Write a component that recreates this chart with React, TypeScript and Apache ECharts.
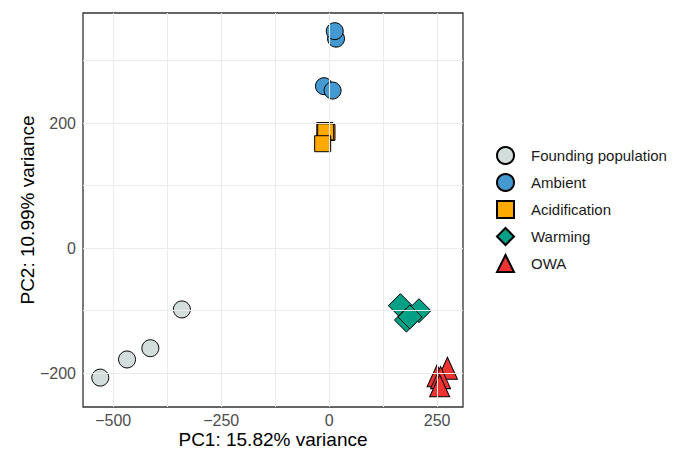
import React, { useEffect, useRef } from "react";
import * as echarts from "echarts";

const groupNames = ["Founding population", "Ambient", "Acidification", "Warming", "OWA"];
const founding = [[-530, -207], [-468, -178], [-414, -160], [-341, -98]];
const ambient = [[16, 335], [13, 347], [-12, 259], [8, 252]];
const acidification = [[-10, 188], [-5, 185], [-8, 186], [-15, 167]];
const warming = [[165, -92], [208, -100], [179, -115], [187, -110]];
const owa = [[274, -192], [250, -204], [258, -207], [256, -220]];
const xTicks = [-500, -250, 0, 250];
const yTicks = [-200, 0, 200];
const xGrid = [-500, -375, -250, -125, 0, 125, 250];
const yGrid = [-200, -100, 0, 100, 200, 300];

const colors = ["#D3DEDC", "#4499D0", "#FFAA00", "#00A087", "#EE3333"];
const symbols = ["circle", "circle", "rect", "diamond", "triangle"];
const sizes: any[] = [17, 17, 16, 24, [20, 22]];
const seriesData = [founding, ambient, acidification, warming, owa];

const minus = (v: number) => String(v).replace("-", "\u2212");

export default function App() {
  const ref = useRef<HTMLDivElement>(null);
  useEffect(() => {
    if (!ref.current) return;
    const chart = echarts.init(ref.current, undefined, { renderer: "svg" });
    const font = "Liberation Sans, Arial, sans-serif";
    const gridSeries: any = {
      type: "scatter",
      name: "grid",
      data: [],
      z: 1,
      silent: true,
      markLine: {
        silent: true,
        symbol: ["none", "none"],
        label: { show: false },
        lineStyle: { color: "#EBEBEB", width: 1, type: "solid" },
        emphasis: { disabled: true },
        data: [
          ...xGrid.map((v) => ({ xAxis: v })),
          ...yGrid.map((v) => ({ yAxis: v })),
        ],
      },
    };
    const series = groupNames.map((name, i) => ({
      type: "scatter",
      name,
      z: 3,
      data: seriesData[i],
      symbol: symbols[i],
      symbolSize: sizes[i],
      itemStyle: { color: colors[i], borderColor: "#000", borderWidth: 1, opacity: 1 },
    }));
    chart.setOption({
      animation: false,
      textStyle: { fontFamily: font },
      grid: {
        left: 83,
        top: 13,
        right: 219,
        bottom: 44,
        containLabel: false,
        outerBoundsMode: "none",
        show: true,
        borderColor: "#333333",
        borderWidth: 1.3,
        backgroundColor: "transparent",
      },
      legend: {
        data: groupNames,
        orient: "vertical",
        left: 491,
        top: 141,
        itemWidth: 17,
        itemHeight: 17,
        itemGap: 8,
        textStyle: { fontSize: 15, color: "#1a1a1a", fontFamily: font, padding: [0, 0, 0, 12] },
      },
      xAxis: {
        type: "value",
        min: -570,
        max: 310,
        name: "PC1: 15.82% variance",
        nameLocation: "middle",
        nameGap: 23,
        nameMoveOverlap: false,
        nameTextStyle: { fontSize: 19, lineHeight: 19, color: "#000", fontFamily: font },
        axisLine: { show: false },
        axisTick: { show: true, length: 4, customValues: xTicks, lineStyle: { color: "#333333", width: 1 } },
        axisLabel: { customValues: xTicks, formatter: minus, fontSize: 16, color: "#4D4D4D", margin: 5, fontFamily: font },
        splitLine: { show: false },
      },
      yAxis: {
        type: "value",
        min: -254,
        max: 376,
        name: "PC2: 10.99% variance",
        nameLocation: "middle",
        nameGap: 46,
        nameMoveOverlap: false,
        nameTextStyle: { fontSize: 19, color: "#000", fontFamily: font },
        axisLine: { show: false },
        axisTick: { show: true, length: 4, customValues: yTicks, lineStyle: { color: "#333333", width: 1 } },
        axisLabel: { customValues: yTicks, formatter: minus, fontSize: 16, color: "#4D4D4D", margin: 7, fontFamily: font },
        splitLine: { show: false },
      },
      series: [gridSeries, ...series],
    });
    return () => chart.dispose();
  }, []);
  return <div ref={ref} style={{ width: 682, height: 451, position: "absolute", left: 0, top: 0 }} />;
}
